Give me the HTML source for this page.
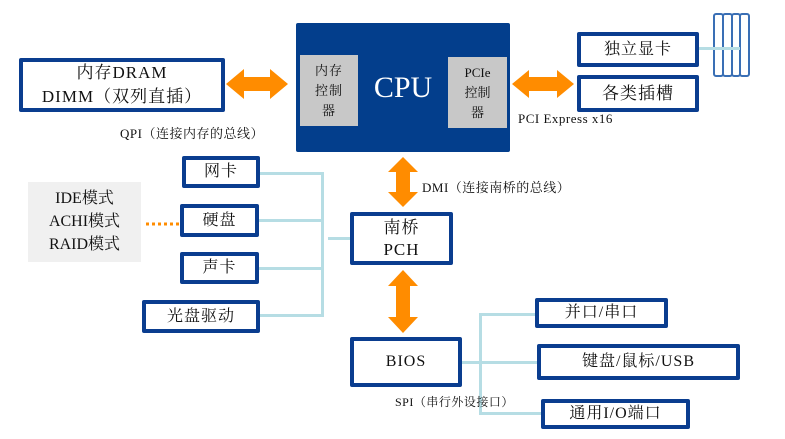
<!DOCTYPE html>
<html><head><meta charset="utf-8"><style>
body{margin:0;width:785px;height:439px;background:#fff;position:relative;overflow:hidden;font-family:"Liberation Serif","Noto Serif CJK SC",serif;color:#111}
.b{position:absolute;border:4px solid #0a3d8f;box-sizing:border-box;border-radius:2px;background:#fff;display:flex;align-items:center;justify-content:center;text-align:center;font-size:16px;line-height:22px;letter-spacing:1px}
.t{position:absolute;font-size:13px;white-space:nowrap;letter-spacing:0.5px}
.l{position:absolute;background:#b6dde4}
</style></head><body>
<svg width="785" height="439" style="position:absolute;left:0;top:0">
<g fill="#ff8c00">
<polygon points="226,84 244,69 244,77 270,77 270,69 288,84 270,99 270,91 244,91 244,99"/>
<polygon points="512,84 529,70 529,77 557,77 557,70 574,84 557,98 557,91 529,91 529,98"/>
<polygon points="403,157 418,172 410,172 410,192 418,192 403,207 388,192 396,192 396,172 388,172"/>
<polygon points="403,270 418,286 410,286 410,317 418,317 403,333 388,317 396,317 396,286 388,286"/>
</g>
<line x1="146" y1="224" x2="179" y2="224" stroke="#ff8c00" stroke-width="3" stroke-dasharray="3,3"/>
<g fill="#fff" stroke="#3a6fb5" stroke-width="2">
<rect x="714" y="14" width="9" height="62" rx="2"/>
<rect x="723" y="14" width="9" height="62" rx="2"/>
<rect x="732" y="14" width="8" height="62" rx="2"/>
<rect x="740" y="14" width="9" height="62" rx="2"/>
</g>
</svg>
<div class="l" style="left:698px;top:47px;width:42px;height:3px"></div>
<div style="position:absolute;left:296px;top:23px;width:214px;height:129px;background:#033e8c;border-radius:2px"></div>
<div style="position:absolute;left:300px;top:55px;width:58px;height:71px;background:#c8c8c8;font-size:13px;line-height:20px;text-align:center;display:flex;align-items:center;justify-content:center;letter-spacing:1px">内存<br>控制<br>器</div>
<div style="position:absolute;left:448px;top:57px;width:59px;height:71px;background:#c8c8c8;font-size:13px;line-height:20px;text-align:center;display:flex;align-items:center;justify-content:center">PCIe<br>控制<br>器</div>
<div style="position:absolute;left:356px;top:70px;width:94px;text-align:center;color:#fff;font-size:30px;line-height:36px">CPU</div>
<div class="b" style="left:19px;top:58px;width:206px;height:54px;font-size:17px;line-height:24px">内存DRAM<br>DIMM（双列直插）</div>
<div class="t" style="left:120px;top:123px">QPI（连接内存的总线）</div>
<div class="b" style="left:577px;top:32px;width:122px;height:35px">独立显卡</div>
<div class="b" style="left:577px;top:75px;width:122px;height:37px;font-size:17px">各类插槽</div>
<div class="t" style="left:518px;top:111px">PCI Express x16</div>
<div class="t" style="left:422px;top:177px">DMI（连接南桥的总线）</div>
<div style="position:absolute;left:28px;top:182px;width:113px;height:80px;background:#f0f0f0;font-size:16px;line-height:23px;text-align:center;padding-top:5px;box-sizing:border-box">IDE模式<br>ACHI模式<br>RAID模式</div>
<div class="l" style="left:260px;top:172px;width:64px;height:3px"></div>
<div class="l" style="left:259px;top:219px;width:65px;height:3px"></div>
<div class="l" style="left:259px;top:267px;width:65px;height:3px"></div>
<div class="l" style="left:260px;top:314px;width:64px;height:3px"></div>
<div class="l" style="left:321px;top:172px;width:3px;height:145px"></div>
<div class="l" style="left:328px;top:237px;width:22px;height:3px"></div>
<div class="b" style="left:182px;top:156px;width:78px;height:32px">网卡</div>
<div class="b" style="left:180px;top:204px;width:79px;height:33px">硬盘</div>
<div class="b" style="left:180px;top:252px;width:79px;height:32px">声卡</div>
<div class="b" style="left:142px;top:300px;width:118px;height:33px">光盘驱动</div>
<div class="b" style="left:350px;top:212px;width:103px;height:53px;font-size:17px">南桥<br>PCH</div>
<div class="b" style="left:350px;top:337px;width:112px;height:50px">BIOS</div>
<div class="l" style="left:479px;top:313px;width:3px;height:102px"></div>
<div class="l" style="left:462px;top:361px;width:75px;height:3px"></div>
<div class="l" style="left:479px;top:313px;width:57px;height:3px"></div>
<div class="l" style="left:479px;top:412px;width:62px;height:3px"></div>
<div class="t" style="left:395px;top:393px;font-size:12px">SPI（串行外设接口）</div>
<div class="b" style="left:535px;top:298px;width:133px;height:30px">并口/串口</div>
<div class="b" style="left:537px;top:344px;width:203px;height:36px">键盘/鼠标/USB</div>
<div class="b" style="left:541px;top:399px;width:149px;height:30px">通用I/O端口</div>
</body></html>
